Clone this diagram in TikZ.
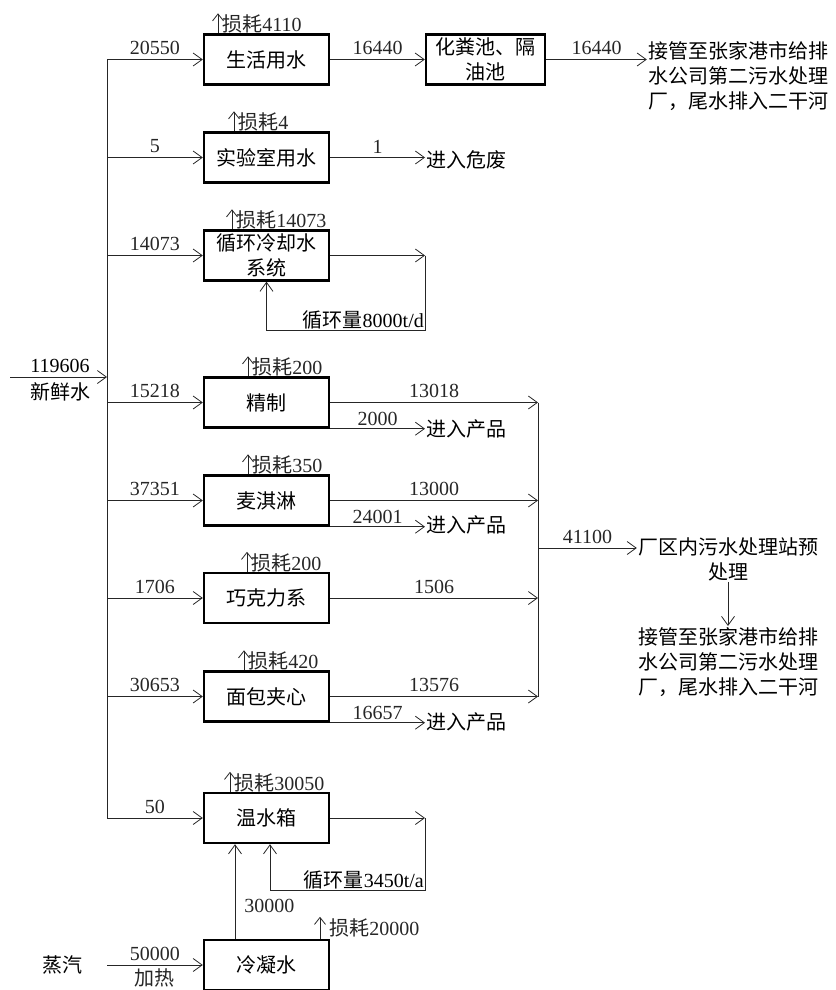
\documentclass[tikz,border=0pt]{standalone}
\usepackage{fontspec}
\setmainfont{Liberation Serif}
\newfontfamily\cjk{Noto Sans CJK SC}
\usetikzlibrary{arrows.meta}

\tikzset{
    unit/.style={draw, line width=2.4pt, minimum width=125pt, minimum height=50pt,
        inner sep=1pt, align=center},
    zh/.style={font=\fontsize{20}{25}\selectfont\cjk, align=center, inner sep=1pt},
    pipe/.style={line width=0.8pt, black!85},
    flow/.style={pipe, -{Straight Barb[length=9pt,width=13pt]}},
    lossflow/.style={pipe, -{Straight Barb[length=7pt,width=11pt]}},
    num/.style={inner sep=1pt}
}

\begin{document}
\begin{tikzpicture}[x=1pt,y=-1pt,font=\fontsize{20}{25}\selectfont]
        \useasboundingbox (0,0) rectangle (835,990);
        % fresh water main
        \coordinate (feed) at (10,377);
        \coordinate (top) at (107,60);
        \coordinate (bot) at (107,818);
        \draw[pipe] (top) -- (bot);
        \draw[flow] (feed) -- (feed -| top);
        \node[num] (nfeed) at (60,366) {119606};
        \node[zh] (fresh) at (60,392) {新鲜水};

        % units
        \node[unit] (life) at (266.5,59.5) {\cjk 生活用水};
        \node[unit] (lab) at (266.5,157.5) {\cjk 实验室用水};
        \node[unit, font=\fontsize{20}{25}\selectfont\cjk] (cool) at (266.5,255.5) {循环冷却水\\系统};
        \node[unit] (refine) at (266.5,402.5) {\cjk 精制};
        \node[unit] (marg) at (266.5,500.5) {\cjk 麦淇淋};
        \node[unit] (choc) at (266.5,598) {\cjk 巧克力系};
        \node[unit] (bread) at (266.5,696.5) {\cjk 面包夹心};
        \node[unit] (warm) at (266.5,818) {\cjk 温水箱};
        \node[unit] (cond) at (266.5,965) {\cjk 冷凝水};
        \node[unit, minimum width=119pt, font=\fontsize{20}{25}\selectfont\cjk] (septic) at (485.5,59.5) {化粪池、隔\\油池};

        % branches off the main
        \foreach \b/\v in {life/20550, lab/5, cool/14073, refine/15218, marg/37351,
                           choc/1706, bread/30653, warm/50}
            \draw[flow] (\b.west -| top) -- node[num, above=3pt] {\v} (\b.west);

        % losses
        \foreach \b/\dx/\t in {life/-48.5/4110, lab/-32.5/4, cool/-34.5/14073, refine/-18.5/200,
                               marg/-18.5/350, choc/-19.5/200, bread/-22.5/420, warm/-36.5/30050}
            \draw[lossflow] ([xshift=\dx]\b.north) -- ++(0,-20) coordinate (loss\b)
                node[num, anchor=north west, xshift=3pt] {{\cjk 损耗}\t};
        \draw[lossflow] ([xshift=53.5]cond.north) -- ++(0,-22) coordinate (losscond)
            node[num, anchor=north west, xshift=8pt] {{\cjk 损耗}20000};

        % domestic sewage
        \node[zh, anchor=north] (sewer1) at (738,40) {接管至张家港市给排\\水公司第二污水处理\\厂，尾水排入二干河};
        \draw[flow] (life) -- node[num, above=3pt] {16440} (septic);
        \draw[flow] (septic.east) -- node[num, above=3pt] {16440} (septic.east -| sewer1.west);

        % lab
        \node[zh, anchor=west] (haz) at (425,160) {进入危废};
        \draw[flow] (lab.east) -- node[num, above=3pt] {1} (lab.east -| haz.west);

        % cooling loop
        \coordinate (cr1) at (425,255.5);
        \coordinate (cr2) at (425,330);
        \draw[flow] (cool.east) -- (cr1);
        \draw[flow] (cr1) -- (cr2) -- (cr2 -| cool.south) -- (cool.south);
        \node[num, anchor=south east] (cyc1) at (cr2) {{\cjk 循环量}8000t/d};

        % production lines
        \coordinate (ctop) at (538,402.5);
        \coordinate (cbot) at (538,696.5);
        \coordinate (cmid) at (538,548);
        \draw[pipe] (ctop) -- (cbot);
        \node[zh, anchor=west] (prod1) at (425,429) {进入产品};
        \node[zh, anchor=west] (prod2) at (425,525) {进入产品};
        \node[zh, anchor=west] (prod3) at (425,722) {进入产品};
        \draw[flow] (refine.east) -- node[num, above=3pt] {13018} (ctop);
        \draw[flow] (refine.south east) -- node[num, above=2pt] {2000} (refine.south east -| prod1.west);
        \draw[flow] (marg.east) -- node[num, above=3pt] {13000} (marg.east -| ctop);
        \draw[flow] (marg.south east) -- node[num, above=2pt] {24001} (marg.south east -| prod2.west);
        \draw[flow] (choc.east) -- node[num, above=3pt] {1506} (choc.east -| ctop);
        \draw[flow] (bread.east) -- node[num, above=3pt] {13576} (cbot);
        \draw[flow] (bread.south east) -- node[num, above=2pt] {16657} (bread.south east -| prod3.west);

        % plant sewage
        \node[zh, anchor=north] (pre) at (728,536) {厂区内污水处理站预\\处理};
        \node[zh, anchor=north] (sewer2) at (728,626) {接管至张家港市给排\\水公司第二污水处理\\厂，尾水排入二干河};
        \draw[flow] (cmid) -- node[num, above=3pt] {41100} (cmid -| pre.west);
        \draw[flow] (pre.south) -- (sewer2.north);

        % warm water loop
        \coordinate (wr1) at (425,818);
        \coordinate (wr2) at (425,890);
        \coordinate (wr3) at (270,890);
        \draw[flow] (warm.east) -- (wr1);
        \draw[flow] (wr1) -- (wr2) -- (wr3) -- (wr3 |- warm.south);
        \node[num, anchor=south east] (cyc2) at (wr2) {{\cjk 循环量}3450t/a};

        % steam and condensate
        \node[zh] (steam) at (62,965) {蒸汽};
        \draw[flow] (cond.west -| top) -- node[num, above=3pt] {50000}
            node[zh, below=2pt] {加热} (cond.west);
        \draw[flow] ([xshift=-31.5]cond.north) -- node[num, pos=0.35, right=8pt] {30000}
            ([xshift=-31.5]warm.south);
\end{tikzpicture}
\end{document}
